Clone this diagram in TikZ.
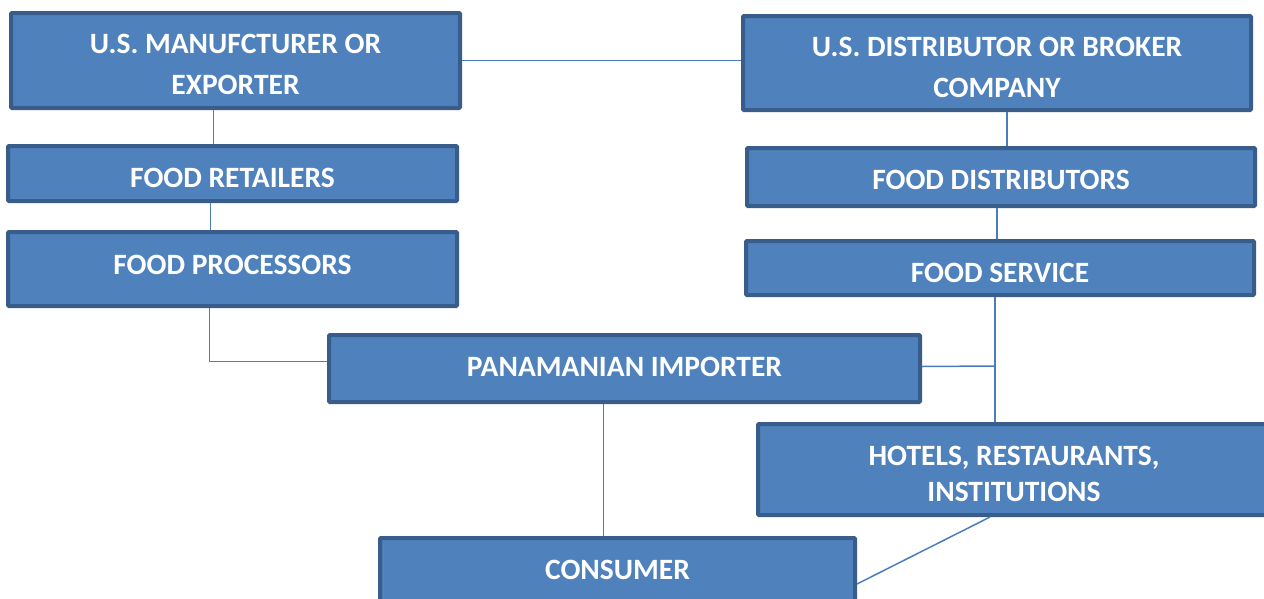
\documentclass[tikz,border=0pt]{standalone}
\usepackage{fontspec}
\setmainfont{Carlito}
\usepackage{xcolor}
\definecolor{boxfill}{RGB}{79,129,189}
\definecolor{boxedge}{RGB}{56,93,138}
\definecolor{linkline}{RGB}{74,126,187}

% move a line of box text up or down without changing the box
\newcommand{\shiftline}[2]{\raisebox{#1}[\height][\depth]{#2}}

\tikzset{
  chainbox/.style={draw=boxedge, fill=boxfill, line width=4pt, rounded corners=1pt,
    text=white, align=center, inner sep=0pt,
    font=\bfseries\fontsize{29.5}{41}\selectfont},
  link/.style={draw=linkline, line width=1.5pt}
}

\begin{document}
\begin{tikzpicture}[x=1pt,y=-1pt]

% page frame
\useasboundingbox (0,0) rectangle (1264,598);

% Left column
\node[chainbox, minimum width=449pt, minimum height=95pt] (manu) at (235.5,60.5)
  {\shiftline{-4pt}{U.S. MANUFCTURER OR}\\\shiftline{-4pt}{EXPORTER}};
\node[chainbox, minimum width=449pt, minimum height=55pt] (retail) at (232.5,173.5)
  {\shiftline{-4pt}{FOOD RETAILERS}};
\node[chainbox, minimum width=449pt, minimum height=74pt] (proc) at (232.5,269)
  {\shiftline{4pt}{FOOD PROCESSORS}};

% Right column
\node[chainbox, minimum width=508pt, minimum height=94pt] (dist) at (997,63)
  {\shiftline{-4.5pt}{U.S. DISTRIBUTOR OR BROKER}\\\shiftline{-4.5pt}{COMPANY}};
\node[chainbox, minimum width=508pt, minimum height=58pt] (fooddist) at (1001,177)
  {\shiftline{-3pt}{FOOD DISTRIBUTORS}};
\node[chainbox, minimum width=508pt, minimum height=54pt] (service) at (1000,268)
  {\shiftline{-4.5pt}{FOOD SERVICE}};

% Importer, HRI and consumer
\node[chainbox, minimum width=591pt, minimum height=67pt] (importer) at (624.5,368.5)
  {\shiftline{2pt}{PANAMANIAN IMPORTER}};
\node[chainbox, minimum width=512pt, minimum height=91pt, font=\bfseries\fontsize{29.5}{36}\selectfont] (hri) at (1014,469.5)
  {\shiftline{-4pt}{HOTELS, RESTAURANTS,}\\\shiftline{-4pt}{INSTITUTIONS}};
\node[chainbox, minimum width=475pt, minimum height=64pt] (consumer) at (617.5,570) {CONSUMER};

% Links
\coordinate (tee) at (995,366);

\draw[link] (manu.east) -- (manu.east -| dist.west);
\draw[link] ([xshift=-22pt]manu.south) -- ([xshift=-22pt]manu.south |- retail.north);
\draw[link] ([xshift=-22pt]retail.south) -- ([xshift=-22pt]retail.south |- proc.north);
\draw[link] ([xshift=-23pt]proc.south) |- ([yshift=7pt]importer.west);

\draw[link] ([xshift=10pt]dist.south) -- ([xshift=10pt]dist.south |- fooddist.north);
\draw[link] ([xshift=-4pt]fooddist.south) -- ([xshift=-4pt]fooddist.south |- service.north);
\draw[link] ([xshift=-5pt]service.south) -- ([xshift=-5pt]service.south |- hri.north);
\draw[link] ([yshift=2pt]importer.east) -- (tee);

\draw[link] ([xshift=-24pt]hri.south) -- ([yshift=-14pt]consumer.east);
\draw[link] ([xshift=-21pt]importer.south) -- ([xshift=-21pt]importer.south |- consumer.north);

\end{tikzpicture}
\end{document}
